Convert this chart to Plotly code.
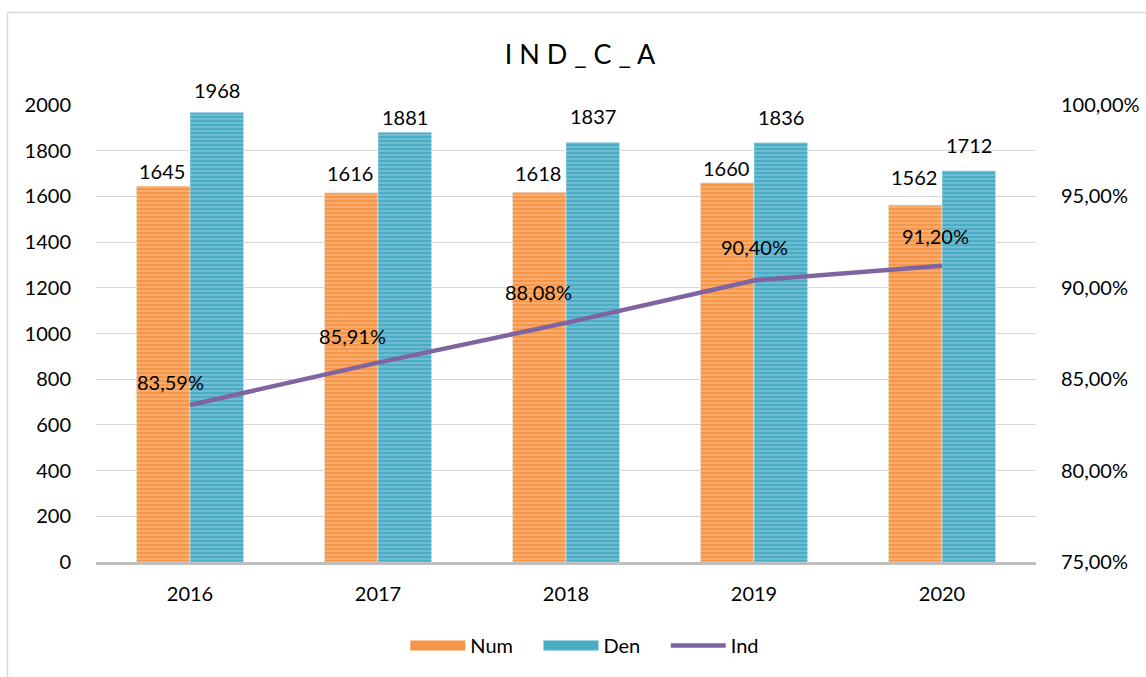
import plotly.graph_objects as go

years = ["2016", "2017", "2018", "2019", "2020"]
num = [1645, 1616, 1618, 1660, 1562]
den = [1968, 1881, 1837, 1836, 1712]
ind = [0.8359, 0.8591, 0.8808, 0.9040, 0.9120]
ind_labels = ["83,59%", "85,91%", "88,08%", "90,40%", "91,20%"]
left_ticks = [0, 200, 400, 600, 800, 1000, 1200, 1400, 1600, 1800, 2000]
right_ticks = [0.75, 0.80, 0.85, 0.90, 0.95, 1.00]
right_labels = ["75,00%", "80,00%", "85,00%", "90,00%", "95,00%", "100,00%"]
series_names = ["Num", "Den", "Ind"]

FONT = "Lato"
FS = 20
W, H = 1146, 677
ML, MR, MT, MB = 96, 110, 105, 115
PW, PH = W - ML - MR, H - MT - MB
PAD = "\u00a0" * 4

ORANGE, ORANGE_L = "#F79646", "#FCD2AE"
BLUE, BLUE_L = "#4BACC6", "#B2DCE8"

fig = go.Figure()
fig.add_trace(go.Bar(
    x=years, y=num, name=series_names[0], showlegend=False, legendgroup="num",
    marker=dict(color=ORANGE,
                pattern=dict(shape="-", size=4, solidity=0.35, fgcolor=ORANGE_L, fillmode="overlay")),
))
fig.add_trace(go.Bar(
    x=years, y=den, name=series_names[1], showlegend=False, legendgroup="den",
    marker=dict(color=BLUE,
                pattern=dict(shape="-", size=4, solidity=0.35, fgcolor=BLUE_L, fillmode="overlay")),
))
fig.add_trace(go.Scatter(x=[years[0]], y=[None], name=series_names[0] + PAD, mode="lines",
                         legendgroup="num", line=dict(color=ORANGE, width=10)))
fig.add_trace(go.Scatter(x=[years[0]], y=[None], name=series_names[1] + PAD, mode="lines",
                         legendgroup="den", line=dict(color=BLUE, width=10)))
fig.add_trace(go.Scatter(
    x=years, y=ind, name=series_names[2], yaxis="y2", mode="lines",
    line=dict(color="#8064A2", width=4.5),
))

# bar value labels (offsets mimic the hand-placed labels of the original)
num_lift = [1, 6, 5, 1, 14]
den_lift = [8, 1, 12, 11, 12]
for i in range(len(years)):
    fig.add_annotation(x=i, y=num[i], xref="x", yref="y", text=str(num[i]), showarrow=False,
                       yanchor="bottom", xshift=-28, yshift=num_lift[i],
                       font=dict(size=FS, color="#000000", family=FONT))
    fig.add_annotation(x=i, y=den[i], xref="x", yref="y", text=str(den[i]), showarrow=False,
                       yanchor="bottom", xshift=27, yshift=den_lift[i],
                       font=dict(size=FS, color="#000000", family=FONT))

# line value labels
xshifts = [-20, -26, -28, 0, -7]
yshifts = [23, 27, 31, 33, 30]
for i in range(len(years)):
    fig.add_annotation(x=i, y=ind[i], xref="x", yref="y2", text=ind_labels[i],
                       showarrow=False, xshift=xshifts[i], yshift=yshifts[i],
                       font=dict(size=FS, color="#000000", family=FONT))

# outer chart border: top and left edges
fig.add_shape(type="line", xref="paper", yref="paper",
              x0=(7.5 - ML) / PW, x1=(W + 5 - ML) / PW,
              y0=(H - MB - 12.5) / PH, y1=(H - MB - 12.5) / PH,
              line=dict(color="#D9D9D9", width=1.5), layer="below")
fig.add_shape(type="line", xref="paper", yref="paper",
              x0=(7.5 - ML) / PW, x1=(7.5 - ML) / PW,
              y0=(H - MB - 12.5) / PH, y1=(H - MB - H - 5) / PH,
              line=dict(color="#D9D9D9", width=1.5), layer="below")

fig.update_layout(
    width=W, height=H,
    margin=dict(l=ML, r=MR, t=MT, b=MB, autoexpand=False),
    paper_bgcolor="white", plot_bgcolor="white",
    font=dict(family=FONT, size=FS, color="#000000"),
    title=dict(text="I N D _ C _ A", x=580 / W, xanchor="center", y=1 - 55 / H, yanchor="middle",
               font=dict(size=27, family=FONT, color="#000000")),
    barmode="group", bargap=0.43, bargroupgap=0,
    showlegend=True,
    legend=dict(orientation="h", x=0.52, xanchor="center", y=-0.14, yanchor="top",
                font=dict(size=FS, family=FONT), itemwidth=55, traceorder="normal"),
    xaxis=dict(type="category", categoryorder="array", categoryarray=years,
               range=[-0.5, len(years) - 0.5],
               showgrid=False, showline=True, linecolor="#BFBFBF", linewidth=2.5,
               ticks="outside", ticklen=12, tickcolor="rgba(0,0,0,0)", tickfont=dict(size=FS),
               automargin=False),
    yaxis=dict(range=[0, 2000], tickvals=left_ticks, showgrid=True, gridcolor="#D9D9D9",
               gridwidth=1, zeroline=False, showline=False, ticks="outside", ticklen=20,
               tickcolor="rgba(0,0,0,0)", tickfont=dict(size=FS), automargin=False),
    yaxis2=dict(range=[0.75, 1.0], tickvals=right_ticks, ticktext=right_labels, overlaying="y",
                side="right", showgrid=False, zeroline=False, showline=False, ticks="outside",
                ticklen=20, tickcolor="rgba(0,0,0,0)", tickfont=dict(size=FS), automargin=False),
)

fig.write_html("out.html", config={"displayModeBar": False},
               post_script="document.body.style.margin='0';")
